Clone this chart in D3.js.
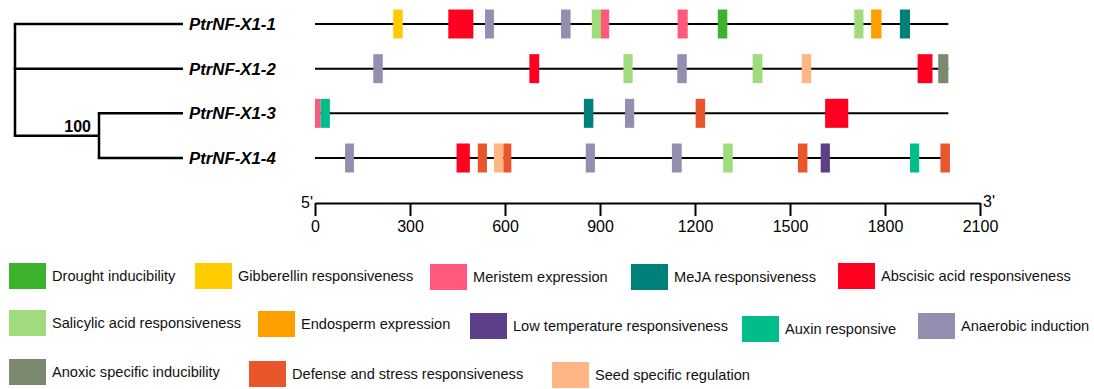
<!DOCTYPE html>
<html>
<head>
<meta charset="utf-8">
<script src="https://cdn.jsdelivr.net/npm/d3@7"></script>
<style>
  body { margin: 0; background: #fff; }
  svg { display: block; font-family: Arial, "Liberation Sans", sans-serif; }
</style>
</head>
<body>
<div id="chart"></div>
<script>
// Gene names (tree leaves, top to bottom)
const genes = ['PtrNF-X1-1', 'PtrNF-X1-2', 'PtrNF-X1-3', 'PtrNF-X1-4'];

// Cis-element categories and their colours (legend order)
const elementTypes = [
  'Drought inducibility', 'Gibberellin responsiveness', 'Meristem expression', 'MeJA responsiveness', 'Abscisic acid responsiveness',
  'Salicylic acid responsiveness', 'Endosperm expression', 'Low temperature responsiveness', 'Auxin responsive', 'Anaerobic induction',
  'Anoxic specific inducibility', 'Defense and stress responsiveness', 'Seed specific regulation',
];
const elementColors = [
  '#3db22d', '#ffcc00', '#ff5a7d', '#00807a', '#ff0020',
  '#a0db7d', '#ffa000', '#5c3f88', '#00bd8a', '#958eb0',
  '#7b8a6f', '#ea562b', '#ffb684',
];

// Promoter elements: [type, start bp, end bp]
const x1Elements = [
  ['Gibberellin responsiveness', 247, 277],
  ['Abscisic acid responsiveness', 421, 500],
  ['Anaerobic induction', 537, 565],
  ['Anaerobic induction', 777, 807],
  ['Salicylic acid responsiveness', 874, 903],
  ['Meristem expression', 903, 929],
  ['Meristem expression', 1145, 1177],
  ['Drought inducibility', 1272, 1302],
  ['Salicylic acid responsiveness', 1703, 1732],
  ['Endosperm expression', 1756, 1789],
  ['MeJA responsiveness', 1847, 1879],
];
const x2Elements = [
  ['Anaerobic induction', 184, 214],
  ['Abscisic acid responsiveness', 677, 708],
  ['Salicylic acid responsiveness', 974, 1003],
  ['Anaerobic induction', 1144, 1174],
  ['Salicylic acid responsiveness', 1382, 1413],
  ['Seed specific regulation', 1537, 1567],
  ['Abscisic acid responsiveness', 1903, 1950],
  ['Anoxic specific inducibility', 1968, 2000],
];
const x3Elements = [
  ['Meristem expression', 0, 18],
  ['Auxin responsive', 18, 47],
  ['MeJA responsiveness', 849, 879],
  ['Anaerobic induction', 979, 1008],
  ['Defense and stress responsiveness', 1202, 1232],
  ['Abscisic acid responsiveness', 1611, 1684],
];
const x4Elements = [
  ['Anaerobic induction', 95, 123],
  ['Abscisic acid responsiveness', 447, 489],
  ['Defense and stress responsiveness', 514, 543],
  ['Seed specific regulation', 565, 595],
  ['Defense and stress responsiveness', 595, 620],
  ['Anaerobic induction', 855, 884],
  ['Anaerobic induction', 1127, 1158],
  ['Salicylic acid responsiveness', 1289, 1319],
  ['Defense and stress responsiveness', 1525, 1555],
  ['Low temperature responsiveness', 1597, 1626],
  ['Auxin responsive', 1879, 1908],
  ['Defense and stress responsiveness', 1975, 2005],
];
const promoterLength = [2000, 2000, 2000, 2000];
const elementsByGene = [x1Elements, x2Elements, x3Elements, x4Elements];

const axisTicks = [0, 300, 600, 900, 1200, 1500, 1800, 2100];
const bootstrap = 100;

const width = 1094;
const height = 389;

// legend layout: left edge of each swatch, row by row
const legendX = [
  [9, 195, 430, 631, 838],
  [9, 258, 470, 742, 918],
  [9, 249, 552],
];
const legendTop = [
  [263, 263, 264, 264, 263],
  [310, 311, 313, 316, 313],
  [359, 361, 362],
];

const svg = d3.select('#chart').append('svg')
  .attr('width', width)
  .attr('height', height);

const x = d3.scaleLinear().domain([0, 2100]).range([315, 980]);
const y = d3.scalePoint().domain(genes).range([24, 158]);
const color = d3.scaleOrdinal().domain(elementTypes).range(elementColors);

// Tree
const treeData = {
  children: [
    { name: genes[0] },
    { name: genes[1] },
    { support: bootstrap, children: [{ name: genes[2] }, { name: genes[3] }] },
  ],
};
const root = d3.hierarchy(treeData);
const depthX = [15, 99];
const leafX = 183;
root.eachAfter(node => {
  if (node.children) {
    node.px = depthX[node.depth];
    node.py = d3.mean(node.children, c => c.py);
  } else {
    node.px = leafX;
    node.py = y(node.data.name);
  }
});

const tree = svg.append('g')
  .attr('fill', 'none')
  .attr('stroke', '#000')
  .attr('stroke-width', 2.5);

root.descendants().filter(n => n.parent).forEach(n => {
  tree.append('line')
    .attr('x1', n.parent.px - 1.25).attr('x2', n.px)
    .attr('y1', n.py).attr('y2', n.py);
});
root.descendants().filter(n => n.children).forEach(n => {
  tree.append('line')
    .attr('x1', n.px).attr('x2', n.px)
    .attr('y1', d3.min(n.children, c => c.py))
    .attr('y2', d3.max(n.children, c => c.py));
});

root.descendants().filter(n => n.data.support).forEach(n => {
  svg.append('text')
    .attr('x', n.px - 8)
    .attr('y', n.py - 4)
    .attr('text-anchor', 'end')
    .attr('font-size', 16)
    .attr('font-weight', 'bold')
    .text(n.data.support);
});

svg.append('g')
  .selectAll('text')
  .data(genes)
  .join('text')
  .attr('x', 189)
  .attr('y', d => y(d))
  .attr('dy', '0.36em')
  .attr('font-size', 16.8)
  .attr('font-weight', 'bold')
  .attr('font-style', 'italic')
  .text(d => d);

// Promoter lines and elements
const rows = svg.append('g')
  .selectAll('g')
  .data(genes)
  .join('g')
  .attr('transform', d => `translate(0,${y(d)})`);

rows.append('line')
  .attr('x1', x(0))
  .attr('x2', (d, i) => x(promoterLength[i]))
  .attr('stroke', '#000')
  .attr('stroke-width', 2);

rows.selectAll('rect')
  .data((d, i) => elementsByGene[i])
  .join('rect')
  .attr('x', d => x(d[1]))
  .attr('width', d => x(d[2]) - x(d[1]))
  .attr('y', -14.5)
  .attr('height', 29)
  .attr('fill', d => color(d[0]));

// Axis
const axis = svg.append('g')
  .attr('transform', 'translate(0,203)')
  .call(d3.axisBottom(x)
    .tickValues(axisTicks)
    .tickFormat(d3.format('d'))
    .tickSize(13)
    .tickSizeOuter(0)
    .tickPadding(5));
axis.select('.domain').attr('stroke-width', 2);
axis.selectAll('.tick line').attr('stroke-width', 2);
axis.selectAll('.tick text')
  .attr('font-size', 16)
  .attr('font-family', 'Arial, "Liberation Sans", sans-serif');

svg.append('text')
  .attr('x', x(0) - 2)
  .attr('y', 208)
  .attr('text-anchor', 'end')
  .attr('font-size', 16)
  .text("5'");
svg.append('text')
  .attr('x', x(2100) + 3)
  .attr('y', 207)
  .attr('font-size', 16)
  .text("3'");

// Legend
const legend = svg.append('g').attr('font-size', 14.6);
let k = 0;
legendX.forEach((row, r) => {
  row.forEach((lx, j) => {
    const name = elementTypes[k++];
    const top = legendTop[r][j];
    legend.append('rect')
      .attr('x', lx)
      .attr('y', top)
      .attr('width', 37)
      .attr('height', 26)
      .attr('fill', color(name));
    legend.append('text')
      .attr('x', lx + 43)
      .attr('y', top + 13)
      .attr('dy', '0.35em')
      .attr('fill', '#111')
      .text(name);
  });
});
</script>
</body>
</html>
